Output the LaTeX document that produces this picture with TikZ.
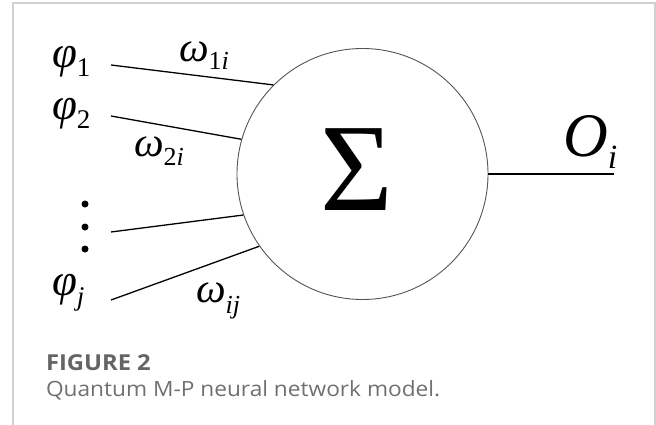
\documentclass[tikz,border=0pt]{standalone}
\usepackage{fontspec}
\setmainfont{Liberation Serif}
\newfontfamily\capfont{Open Sans}
\definecolor{framec}{RGB}{208,208,208}
\definecolor{circc}{RGB}{85,85,85}
\definecolor{figc}{RGB}{100,100,100}
\definecolor{capc}{RGB}{112,112,112}
\newcommand\mainsub[5]{{\fontsize{#1}{#1}\selectfont\itshape #2\raisebox{-#3}{\fontsize{#4}{#4}\selectfont #5}}}
\begin{document}
\begin{tikzpicture}[x=1pt,y=-1pt,
  lab/.style={anchor=base west, inner sep=0pt, outer sep=0pt},
  inlink/.style={line width=1.3pt, black},
  dotc/.style={fill=black, circle, inner sep=0pt, minimum size=7pt}]
\useasboundingbox (0,0) rectangle (656,425);
\fill[white] (0,0) rectangle (656,425);
\draw[framec, line width=1.5pt] (13,425) -- (13,3) -- (655,3) -- (655,425);
% summation neuron
\node[draw=circc, circle, minimum size=251pt, inner sep=0pt, line width=0.9pt] (sum) at (362.5,174) {};
\node[anchor=base, inner sep=0pt] (sig) at (356.5,210) {\fontsize{125}{125}\selectfont Σ};
% input start points
\coordinate (s1) at (111,65);
\coordinate (s2) at (111,116);
\coordinate (s3) at (111,232);
\coordinate (s4) at (111,300);
\draw[inlink] (s1) -- (sum.135.2);
\draw[inlink] (s2) -- (sum.164.4);
\draw[inlink] (s3) -- (sum.199.4);
\draw[inlink] (s4) -- (sum.215.8);
% output
\coordinate (out) at (614,174);
\draw[line width=1.5pt] (sum.east) -- (out);
% labels
\node[lab] (p1) at (52,68) {\mainsub{45}{φ}{9pt}{27}{\upshape 1}};
\node[lab] (p2) at (52,120) {\mainsub{45}{φ}{9pt}{27}{\upshape 2}};
\node[lab] (pj) at (52,295) {\mainsub{45}{φ}{10pt}{27}{\itshape j}};
\node[dotc] (d1) at (85,204) {};
\node[dotc] (d2) at (85,227) {};
\node[dotc] (d3) at (85,249) {};
\node[lab] (w1) at (179,62) {\mainsub{42}{ω}{8pt}{26}{\upshape 1\itshape i}};
\node[lab] (w2) at (134,157) {\mainsub{42}{ω}{9pt}{26}{\upshape 2\itshape i}};
\node[lab] (wj) at (196,302) {\mainsub{42}{ω}{11pt}{26}{\itshape ij}};
\node[lab] (oi) at (563,157) {\mainsub{62}{O}{12pt}{34}{\itshape i}};
% caption
\node[lab, text=figc] (fig) at (46,370) {\scalebox{1.08}[1]{\capfont\bfseries\fontsize{22}{22}\selectfont FIGURE 2}};
\node[lab, text=capc] (cap) at (46,396) {\scalebox{1.08}[1]{\capfont\fontsize{21}{21}\selectfont Quantum M-P neural network model.}};
\end{tikzpicture}
\end{document}
